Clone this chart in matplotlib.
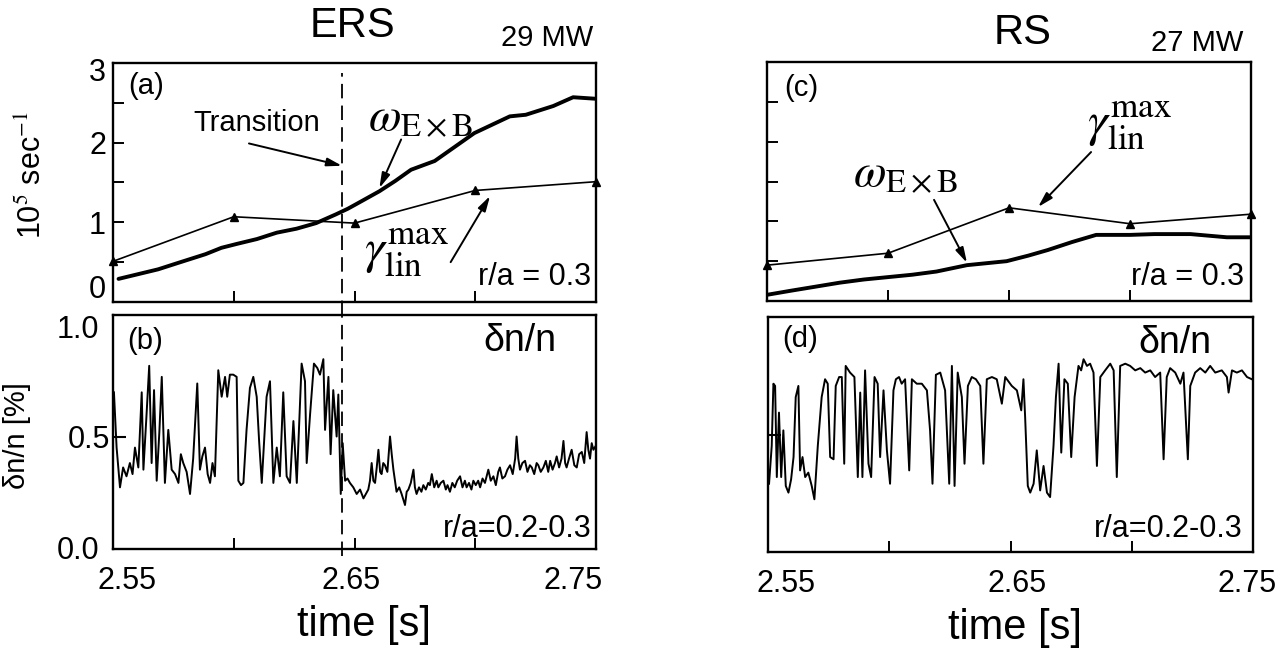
import matplotlib
matplotlib.use("Agg")
import matplotlib.pyplot as plt
import matplotlib.transforms as mtrans

plt.rcParams['font.family'] = ['Liberation Sans', 'DejaVu Sans']
plt.rcParams['mathtext.fontset'] = 'stix'

# ---------------- data ----------------
# (a) ERS, 29 MW
ers_w_t = [2.5523, 2.5605, 2.5687, 2.5769, 2.5883, 2.5949, 2.6014, 2.6096, 2.6178, 2.6260,
           2.6341, 2.6423, 2.6472, 2.6505, 2.6603, 2.6669, 2.6734, 2.6832, 2.6996, 2.7143,
           2.7209, 2.7323, 2.7405, 2.7503]
ers_w_v = [0.29, 0.35, 0.41, 0.49, 0.60, 0.68, 0.73, 0.79, 0.87, 0.92,
           0.99, 1.10, 1.17, 1.225, 1.39, 1.52, 1.66, 1.77, 2.12, 2.33,
           2.35, 2.46, 2.57, 2.55]
ers_g_t = [2.55, 2.60, 2.65, 2.70, 2.75]
ers_g_v = [0.51, 1.07, 0.99, 1.40, 1.51]

# (c) RS, 27 MW
rs_w_t = [2.5504, 2.5600, 2.5700, 2.5800, 2.5900, 2.6000, 2.6100, 2.6200, 2.6326, 2.6490,
          2.6580, 2.6660, 2.6760, 2.6860, 2.7000, 2.7100, 2.7250, 2.7400, 2.7500]
rs_w_v = [0.08, 0.13, 0.18, 0.23, 0.27, 0.30, 0.33, 0.37, 0.45, 0.50,
          0.57, 0.64, 0.74, 0.83, 0.83, 0.84, 0.84, 0.80, 0.80]
rs_g_t = [2.55, 2.60, 2.65, 2.70, 2.75]
rs_g_v = [0.45, 0.60, 1.17, 0.97, 1.09]

# (b) ERS density fluctuation
ers_n_t = [2.5504, 2.5515, 2.5529, 2.5542, 2.5556, 2.5570, 2.5581, 2.5591, 2.5605, 2.5619,
           2.5626, 2.5638, 2.5650, 2.5660, 2.5670, 2.5681, 2.5692, 2.5702, 2.5715, 2.5729,
           2.5743, 2.5757, 2.5771, 2.5781, 2.5791, 2.5805, 2.5819, 2.5832, 2.5849, 2.5860,
           2.5870, 2.5881, 2.5892, 2.5902, 2.5912, 2.5922, 2.5936, 2.5950, 2.5964, 2.5973,
           2.5984, 2.5998, 2.6012, 2.6019, 2.6030, 2.6040, 2.6053, 2.6067, 2.6081, 2.6095,
           2.6105, 2.6116, 2.6136, 2.6150, 2.6164, 2.6178, 2.6191, 2.6205, 2.6219, 2.6233,
           2.6247, 2.6261, 2.6281, 2.6295, 2.6302, 2.6316, 2.6332, 2.6346, 2.6357, 2.6371,
           2.6378, 2.6392, 2.6401, 2.6412, 2.6426, 2.6433, 2.6443, 2.6451, 2.6461, 2.6471,
           2.6481, 2.6495, 2.6509, 2.6523, 2.6537, 2.6547, 2.6557, 2.6564, 2.6571, 2.6578,
           2.6585, 2.6592, 2.6599, 2.6606, 2.6612, 2.6619, 2.6626, 2.6636, 2.6647, 2.6654,
           2.6661, 2.6674, 2.6685, 2.6695, 2.6709, 2.6716, 2.6723, 2.6733, 2.6744, 2.6750,
           2.6757, 2.6767, 2.6777, 2.6785, 2.6795, 2.6805, 2.6812, 2.6820, 2.6830, 2.6840,
           2.6847, 2.6857, 2.6868, 2.6878, 2.6885, 2.6895, 2.6905, 2.6915, 2.6925, 2.6937,
           2.6947, 2.6957, 2.6964, 2.6974, 2.6984, 2.6992, 2.7002, 2.7012, 2.7020, 2.7030,
           2.7040, 2.7054, 2.7064, 2.7075, 2.7085, 2.7095, 2.7102, 2.7112, 2.7123, 2.7133,
           2.7144, 2.7155, 2.7165, 2.7171, 2.7178, 2.7185, 2.7195, 2.7206, 2.7216, 2.7226,
           2.7234, 2.7244, 2.7254, 2.7261, 2.7271, 2.7282, 2.7292, 2.7302, 2.7310, 2.7320,
           2.7330, 2.7337, 2.7347, 2.7357, 2.7365, 2.7372, 2.7378, 2.7388, 2.7399, 2.7410,
           2.7420, 2.7430, 2.7441, 2.7451, 2.7461, 2.7468, 2.7475, 2.7482, 2.7489, 2.7500]
ers_n_v = [0.70, 0.45, 0.27, 0.36, 0.32, 0.38, 0.33, 0.45, 0.36, 0.70,
           0.35, 0.58, 0.82, 0.38, 0.71, 0.30, 0.52, 0.77, 0.29, 0.53,
           0.35, 0.33, 0.29, 0.42, 0.38, 0.34, 0.24, 0.40, 0.74, 0.35,
           0.41, 0.45, 0.33, 0.29, 0.38, 0.32, 0.80, 0.68, 0.77, 0.68,
           0.78, 0.78, 0.77, 0.30, 0.28, 0.29, 0.53, 0.72, 0.77, 0.68,
           0.48, 0.29, 0.68, 0.75, 0.29, 0.45, 0.32, 0.70, 0.32, 0.29,
           0.57, 0.29, 0.83, 0.75, 0.38, 0.60, 0.83, 0.81, 0.78, 0.85,
           0.53, 0.77, 0.42, 0.71, 0.50, 0.69, 0.24, 0.47, 0.30, 0.31,
           0.29, 0.27, 0.24, 0.26, 0.22, 0.24, 0.26, 0.30, 0.38, 0.30,
           0.29, 0.36, 0.44, 0.34, 0.33, 0.38, 0.37, 0.34, 0.50, 0.42,
           0.35, 0.25, 0.27, 0.24, 0.19, 0.25, 0.26, 0.29, 0.35, 0.27,
           0.24, 0.27, 0.25, 0.28, 0.26, 0.29, 0.28, 0.33, 0.27, 0.30,
           0.27, 0.29, 0.30, 0.26, 0.28, 0.25, 0.29, 0.27, 0.30, 0.32,
           0.27, 0.30, 0.27, 0.29, 0.26, 0.30, 0.28, 0.30, 0.27, 0.31,
           0.29, 0.35, 0.30, 0.32, 0.28, 0.34, 0.36, 0.31, 0.32, 0.35,
           0.37, 0.33, 0.40, 0.50, 0.40, 0.35, 0.38, 0.39, 0.34, 0.37,
           0.36, 0.33, 0.38, 0.37, 0.34, 0.36, 0.39, 0.34, 0.39, 0.35,
           0.38, 0.41, 0.36, 0.40, 0.48, 0.38, 0.36, 0.40, 0.44, 0.37,
           0.36, 0.42, 0.43, 0.38, 0.52, 0.44, 0.40, 0.47, 0.44, 0.46]

# (d) RS density fluctuation
rs_n_t = [2.5504, 2.5515, 2.5522, 2.5529, 2.5536, 2.5545, 2.5554, 2.5563, 2.5573, 2.5584,
          2.5595, 2.5605, 2.5614, 2.5625, 2.5632, 2.5642, 2.5653, 2.5666, 2.5680, 2.5691,
          2.5705, 2.5721, 2.5735, 2.5746, 2.5756, 2.5770, 2.5779, 2.5793, 2.5804, 2.5814,
          2.5820, 2.5838, 2.5856, 2.5870, 2.5880, 2.5889, 2.5900, 2.5914, 2.5925, 2.5939,
          2.5952, 2.5962, 2.5976, 2.5990, 2.6003, 2.6017, 2.6027, 2.6040, 2.6051, 2.6065,
          2.6082, 2.6093, 2.6113, 2.6134, 2.6155, 2.6168, 2.6178, 2.6192, 2.6210, 2.6230,
          2.6247, 2.6258, 2.6269, 2.6282, 2.6299, 2.6310, 2.6324, 2.6340, 2.6357, 2.6375,
          2.6388, 2.6402, 2.6423, 2.6443, 2.6464, 2.6478, 2.6505, 2.6526, 2.6544, 2.6553,
          2.6560, 2.6571, 2.6581, 2.6595, 2.6608, 2.6622, 2.6636, 2.6650, 2.6663, 2.6677,
          2.6687, 2.6698, 2.6709, 2.6722, 2.6736, 2.6750, 2.6764, 2.6780, 2.6791, 2.6801,
          2.6815, 2.6828, 2.6842, 2.6856, 2.6870, 2.6890, 2.6911, 2.6925, 2.6938, 2.6952,
          2.6973, 2.6993, 2.7014, 2.7035, 2.7055, 2.7076, 2.7096, 2.7117, 2.7131, 2.7144,
          2.7158, 2.7179, 2.7200, 2.7213, 2.7231, 2.7241, 2.7261, 2.7282, 2.7303, 2.7323,
          2.7344, 2.7371, 2.7392, 2.7399, 2.7413, 2.7433, 2.7454, 2.7475, 2.7495]
rs_n_v = [0.28, 0.45, 0.73, 0.72, 0.31, 0.60, 0.31, 0.52, 0.27, 0.24,
          0.30, 0.40, 0.67, 0.72, 0.34, 0.40, 0.31, 0.33, 0.27, 0.21,
          0.45, 0.67, 0.75, 0.73, 0.40, 0.39, 0.72, 0.76, 0.76, 0.37,
          0.81, 0.78, 0.76, 0.31, 0.69, 0.31, 0.79, 0.37, 0.31, 0.76,
          0.73, 0.40, 0.70, 0.43, 0.28, 0.70, 0.75, 0.76, 0.73, 0.75,
          0.34, 0.75, 0.73, 0.73, 0.70, 0.52, 0.28, 0.77, 0.78, 0.70,
          0.28, 0.81, 0.27, 0.78, 0.67, 0.37, 0.72, 0.76, 0.75, 0.72,
          0.37, 0.75, 0.76, 0.75, 0.64, 0.76, 0.72, 0.70, 0.61, 0.75,
          0.58, 0.27, 0.24, 0.28, 0.43, 0.25, 0.36, 0.24, 0.22, 0.45,
          0.67, 0.82, 0.42, 0.75, 0.73, 0.40, 0.67, 0.81, 0.79, 0.84,
          0.81, 0.82, 0.78, 0.36, 0.76, 0.79, 0.82, 0.79, 0.31, 0.81,
          0.82, 0.81, 0.79, 0.80, 0.78, 0.79, 0.76, 0.78, 0.39, 0.76,
          0.80, 0.78, 0.73, 0.78, 0.39, 0.72, 0.78, 0.80, 0.78, 0.81,
          0.78, 0.79, 0.76, 0.69, 0.79, 0.78, 0.79, 0.76, 0.75]

x_major = [2.55, 2.65, 2.75]
x_minor = [2.60, 2.70]
x_labels = ["2.55", "2.65", "2.75"]
t_transition = 2.645

# ---------------- figure ----------------
fig = plt.figure(figsize=(12.78, 6.5), dpi=100)
ax_a = fig.add_axes([0.0884, 0.5354, 0.3780, 0.3677])
ax_b = fig.add_axes([0.0884, 0.1554, 0.3780, 0.3600])
ax_c = fig.add_axes([0.6002, 0.5369, 0.3787, 0.3677])
ax_d = fig.add_axes([0.6010, 0.1508, 0.3795, 0.3615])

for ax in (ax_a, ax_b, ax_c, ax_d):
    for s in ax.spines.values():
        s.set_linewidth(1.7)
    ax.set_xlim(2.55, 2.75)
    ax.set_xticks(x_major)
    ax.set_xticks(x_minor, minor=True)
    ax.tick_params(axis='both', which='both', direction='in', length=8, width=1.4,
                   top=False, right=False, labelsize=22)
    ax.tick_params(axis='x', pad=12)
    ax.tick_params(axis='y', pad=5)

# upper panels
for ax in (ax_a, ax_c):
    ax.set_ylim(0, 3)
    ax.set_yticks([0, 1, 2, 3])
    ax.set_yticks([0.5, 1.5, 2.5], minor=True)
    ax.set_xticklabels([])
ax_c.set_yticklabels([])

# lower panels: tick mark only at 0.5; 0.0 and 1.0 are labels without marks
ax_b.set_ylim(-0.009, 1.05)
ax_d.set_ylim(-0.027, 1.03)
for ax in (ax_b, ax_d):
    ax.set_yticks([0.5])
    ax.set_yticks([0.0, 1.0], minor=True)
    ax.tick_params(axis='y', which='major', length=9, width=1.5, pad=2)
    ax.tick_params(axis='y', which='minor', length=0, pad=10)
    ax.set_xticklabels(x_labels)
ax_b.set_yticklabels(["0.5"])
ax_b.set_yticklabels(["0.0", "1.0"], minor=True)
ax_d.set_yticklabels([])
ax_d.set_yticklabels([], minor=True)

def shift(label, dx_px, dy_px):
    off = mtrans.ScaledTranslation(dx_px / 100.0, dy_px / 100.0, fig.dpi_scale_trans)
    label.set_transform(label.get_transform() + off)

# the original places the end tick labels slightly inward
fig.canvas.draw()
xl_b = ax_b.get_xticklabels()
shift(xl_b[0], 14, 0)
shift(xl_b[1], -3, 0)
shift(xl_b[2], -23, 0)
xl_d = ax_d.get_xticklabels()
shift(xl_d[0], 18, 0)
shift(xl_d[1], 6, 0)
shift(xl_d[2], -6, 0)
yl_a = ax_a.get_yticklabels()
shift(yl_a[0], 0, 15)
shift(yl_a[3], 0, -7)

# curves
ax_a.plot(ers_w_t, ers_w_v, color='black', lw=2.8, solid_capstyle='round')
ax_a.plot(ers_g_t, ers_g_v, color='black', lw=1.2, marker='^', ms=6, clip_on=False)
ax_c.plot(rs_w_t, rs_w_v, color='black', lw=2.8, solid_capstyle='round')
ax_c.plot(rs_g_t, rs_g_v, color='black', lw=1.2, marker='^', ms=6, clip_on=False)
ax_b.plot(ers_n_t, ers_n_v, color='black', lw=1.4)
ax_d.plot(rs_n_t, rs_n_v, color='black', lw=1.4)

# transition dashed line
ax_a.axvline(t_transition, ymin=-0.055, ymax=0.96, color='black', lw=1.3,
             ls=(0, (8, 4)), clip_on=False)
ax_b.axvline(t_transition, ymin=-0.03, ymax=1.0, color='black', lw=1.3,
             ls=(0, (8, 4)), clip_on=False)

arrow = dict(arrowstyle='-|>,head_length=0.9,head_width=0.25', color='black',
             lw=1.4, shrinkA=0, shrinkB=0)

omega = r'$\omega_{\mathrm{E\times B}}$'
gamma = r'$\gamma_{\mathrm{lin}}^{\mathrm{max}}$'

# panel (a) annotations
ax_a.text(0.068, 0.905, "(a)", transform=ax_a.transAxes, fontsize=21, ha='center', va='center')
ax_a.annotate("", xy=(2.6448, 1.71), xytext=(2.6063, 1.99), arrowprops=arrow)
ax_a.text(2.6096, 2.25, "Transition", fontsize=21, ha='center', va='center')
ax_a.annotate("", xy=(2.6603, 1.43), xytext=(2.6693, 2.04), arrowprops=arrow)
ax_a.text(2.6775, 2.31, omega, fontsize=34, ha='center', va='center')
ax_a.annotate("", xy=(2.7061, 1.33), xytext=(2.6898, 0.50), arrowprops=arrow)
ax_a.text(2.6717, 0.62, gamma, fontsize=36, ha='center', va='center')
ax_a.text(0.99, 0.105, "r/a = 0.3", transform=ax_a.transAxes, fontsize=22,
          ha='right', va='center')
ax_a.set_ylabel(r"10$^5$ sec$^{-1}$", fontsize=22)
ax_a.yaxis.set_label_coords(-0.135, 0.53)

# panel (c) annotations
ax_c.text(0.07, 0.89, "(c)", transform=ax_c.transAxes, fontsize=21, ha='center', va='center')
ax_c.annotate("", xy=(2.662, 1.18), xytext=(2.6839, 1.87), arrowprops=arrow)
ax_c.text(2.700, 2.20, gamma, fontsize=36, ha='center', va='center')
ax_c.annotate("", xy=(2.6326, 0.48), xytext=(2.619, 1.27), arrowprops=arrow)
ax_c.text(2.607, 1.60, omega, fontsize=34, ha='center', va='center')
ax_c.text(0.985, 0.10, "r/a = 0.3", transform=ax_c.transAxes, fontsize=22,
          ha='right', va='center')

# panel (b) annotations
ax_b.text(0.066, 0.889, "(b)", transform=ax_b.transAxes, fontsize=21, ha='center', va='center')
ax_b.text(0.843, 0.889, "δn/n", transform=ax_b.transAxes, fontsize=27, ha='center', va='center')
ax_b.text(0.99, 0.085, "r/a=0.2-0.3", transform=ax_b.transAxes, fontsize=22,
          ha='right', va='center')
ax_b.set_ylabel("δn/n [%]", fontsize=21)
ax_b.yaxis.set_label_coords(-0.17, 0.485)
ax_b.set_xlabel("time [s]", fontsize=30)
ax_b.xaxis.set_label_coords(0.52, -0.24)

# panel (d) annotations
ax_d.text(0.066, 0.905, "(d)", transform=ax_d.transAxes, fontsize=21, ha='center', va='center')
ax_d.text(0.839, 0.89, "δn/n", transform=ax_d.transAxes, fontsize=27, ha='center', va='center')
ax_d.text(0.979, 0.098, "r/a=0.2-0.3", transform=ax_d.transAxes, fontsize=22,
          ha='right', va='center')
ax_d.set_xlabel("time [s]", fontsize=30)
ax_d.xaxis.set_label_coords(0.509, -0.24)

# titles
fig.text(0.2754, 0.960, "ERS", fontsize=30, ha='center', va='center')
fig.text(0.464, 0.941, "29 MW", fontsize=21, ha='right', va='center')
fig.text(0.800, 0.949, "RS", fontsize=30, ha='center', va='center')
fig.text(0.973, 0.934, "27 MW", fontsize=21, ha='right', va='center')

fig.savefig("out.png", dpi=100)
